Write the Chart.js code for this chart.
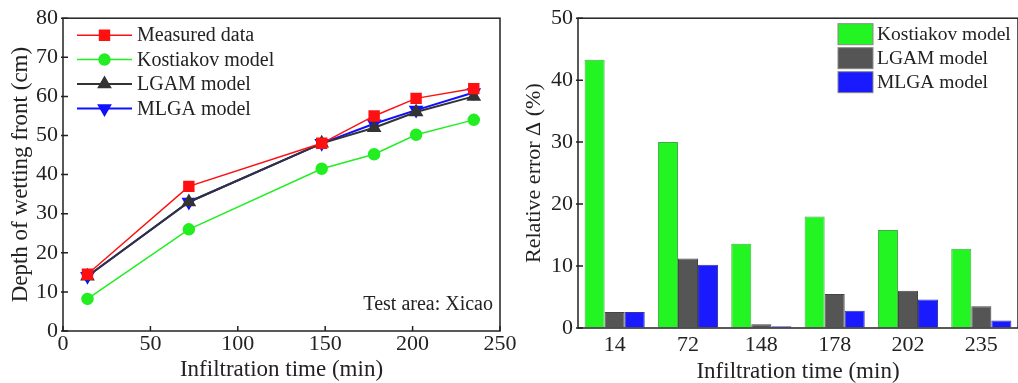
<!DOCTYPE html>
<html>
<head>
<meta charset="utf-8">
<script src="https://cdn.jsdelivr.net/npm/chart.js@4"></script>
<style>
body { margin: 0; background: #fff; }
#wrap { position: relative; width: 1018px; height: 383px; }
.caja { position: absolute; top: 0; height: 383px; }
</style>
</head>
<body>
<div id="wrap">
  <div class="caja" style="left:0;width:522px"><canvas id="grafica1"></canvas></div>
  <div class="caja" style="left:509px;width:509px"><canvas id="grafica2"></canvas></div>
</div>
<script>
// datos
var tiempos = [14, 72, 148, 178, 202, 235];
var medido = [14.5, 37, 48, 55, 59.5, 62];
var kostiakov = [8.2, 26, 41.5, 45.2, 50.2, 54];
var lgam = [14, 33, 48, 52, 56, 60];
var mlga = [14, 33, 48, 53, 56.5, 61];

var errorKostiakov = [43.3, 30, 13.6, 18, 15.8, 12.8];
var errorLgam = [2.6, 11.2, 0.6, 5.5, 6, 3.5];
var errorMlga = [2.6, 10.2, 0.3, 2.8, 4.6, 1.2];

var fuente = '"Liberation Serif", "Times New Roman", serif';
Chart.defaults.font.family = fuente;
Chart.defaults.color = '#222';

function puntos(valores) {
    return tiempos.map(function (t, i) { return { x: t, y: valores[i] }; });
}

// marco y marcas de los ejes
var marcas = {
    id: 'marcas',
    afterDraw: function (chart, args, opts) {
        var ctx = chart.ctx, a = chart.chartArea;
        var x = chart.scales.x, y = chart.scales.y;
        ctx.save();
        ctx.strokeStyle = '#222';
        ctx.lineWidth = 1.5;
        ctx.strokeRect(a.left, a.top, a.right - a.left, a.bottom - a.top);
        ctx.beginPath();
        y.ticks.forEach(function (t) {
            var py = y.getPixelForValue(t.value);
            ctx.moveTo(a.left - 2, py);
            ctx.lineTo(a.left + 5, py);
        });
        if (opts.xMarcas) {
            x.ticks.forEach(function (t, i) {
                var px = x.getPixelForTick(i);
                ctx.moveTo(px, a.bottom);
                ctx.lineTo(px, a.bottom - 5);
            });
        }
        ctx.stroke();
        ctx.restore();
    }
};

var leyendaLineas = {
    id: 'leyendaLineas',
    afterDraw: function (chart) {
        var ctx = chart.ctx, a = chart.chartArea;
        ctx.save();
        chart.data.datasets.forEach(function (ds, i) {
            var yy = a.top + 17 + i * 24.4;
            var x0 = a.left + 14;
            ctx.strokeStyle = ds.borderColor;
            ctx.lineWidth = ds.borderWidth;
            ctx.beginPath();
            ctx.moveTo(x0, yy);
            ctx.lineTo(x0 + 55, yy);
            ctx.stroke();
            ctx.fillStyle = ds.pointBackgroundColor;
            ctx.strokeStyle = ds.pointBorderColor;
            Chart.helpers.drawPoint(ctx, {
                pointStyle: ds.pointStyle,
                radius: ds.pointRadius,
                rotation: ds.pointRotation || 0,
                borderWidth: 1
            }, x0 + 27.5, yy);
            ctx.fillStyle = '#222';
            ctx.font = '20px ' + fuente;
            ctx.textBaseline = 'middle';
            ctx.fillText(ds.label, x0 + 60, yy + 1);
        });
        ctx.font = '20px ' + fuente;
        ctx.textAlign = 'right';
        ctx.textBaseline = 'middle';
        ctx.fillText('Test area: Xicao', a.right - 7, a.bottom - 26);
        ctx.restore();
    }
};

var leyendaBarras = {
    id: 'leyendaBarras',
    afterDraw: function (chart) {
        var ctx = chart.ctx, a = chart.chartArea;
        ctx.save();
        chart.data.datasets.forEach(function (ds, i) {
            var yy = a.top + 16 + i * 24;
            var x0 = a.right - 180;
            ctx.fillStyle = ds.backgroundColor;
            ctx.fillRect(x0, yy - 10.5, 35, 21);
            ctx.strokeStyle = '#888';
            ctx.lineWidth = 1;
            ctx.strokeRect(x0, yy - 10.5, 35, 21);
            ctx.fillStyle = '#222';
            ctx.font = '19.5px ' + fuente;
            ctx.textBaseline = 'middle';
            ctx.fillText(ds.label, x0 + 39, yy + 1);
        });
        ctx.restore();
    }
};

var ctx1 = document.getElementById('grafica1').getContext('2d');
var grafica1 = new Chart(ctx1, {
    type: 'line',
    data: {
        datasets: [{
            label: 'Measured data',
            data: puntos(medido),
            borderColor: '#ff1010',
            borderWidth: 1.5,
            pointStyle: 'rect',
            pointRadius: 7,
            pointBackgroundColor: '#ff1010',
            pointBorderColor: '#ff1010'
        }, {
            label: 'Kostiakov model',
            data: puntos(kostiakov),
            borderColor: '#22ee22',
            borderWidth: 1.5,
            pointStyle: 'circle',
            pointRadius: 5.5,
            pointBackgroundColor: '#22ee22',
            pointBorderColor: '#22ee22'
        }, {
            label: 'LGAM model',
            data: puntos(lgam),
            borderColor: '#333333',
            borderWidth: 2,
            pointStyle: 'triangle',
            pointRadius: 6.5,
            pointBackgroundColor: '#333333',
            pointBorderColor: '#333333'
        }, {
            label: 'MLGA model',
            data: puntos(mlga),
            borderColor: '#1010ff',
            borderWidth: 2,
            pointStyle: 'triangle',
            pointRotation: 180,
            pointRadius: 6.5,
            pointBackgroundColor: '#1010ff',
            pointBorderColor: '#1010ff'
        }]
    },
    options: {
        responsive: true,
        maintainAspectRatio: false,
        animation: false,
        layout: { padding: { top: 16, right: 22, left: 0, bottom: 0 } },
        plugins: {
            legend: { display: false },
            tooltip: { enabled: false },
            marcas: { xMarcas: true }
        },
        scales: {
            x: {
                type: 'linear',
                min: 0,
                max: 250,
                grid: { drawOnChartArea: false, drawTicks: false },
                border: { display: false },
                ticks: { stepSize: 50, padding: 0, maxRotation: 0, font: { size: 22 } },
                title: { display: true, text: 'Infiltration time (min)', font: { size: 23 }, padding: { top: 0, bottom: -1 } },
                afterFit: function (s) { s.height = 52; }
            },
            y: {
                min: 0,
                max: 80,
                grid: { drawOnChartArea: false, drawTicks: false },
                border: { display: false },
                ticks: { stepSize: 10, padding: 5, font: { size: 22 } },
                title: { display: true, text: 'Depth of wetting front (cm)', font: { size: 23 }, padding: { top: 7, bottom: 0 } },
                afterFit: function (s) { s.width = 63; }
            }
        }
    },
    plugins: [marcas, leyendaLineas]
});

var ctx2 = document.getElementById('grafica2').getContext('2d');
var grafica2 = new Chart(ctx2, {
    type: 'bar',
    data: {
        labels: tiempos,
        datasets: [{
            label: 'Kostiakov model',
            data: errorKostiakov,
            backgroundColor: '#22f522',
            borderColor: '#44aa44',
            borderWidth: 1
        }, {
            label: 'LGAM model',
            data: errorLgam,
            backgroundColor: '#555555',
            borderColor: '#444444',
            borderWidth: 1
        }, {
            label: 'MLGA model',
            data: errorMlga,
            backgroundColor: '#1a1aff',
            borderColor: '#3333aa',
            borderWidth: 1
        }]
    },
    options: {
        responsive: true,
        maintainAspectRatio: false,
        animation: false,
        layout: { padding: { top: 16, right: 0, left: 0, bottom: 0 } },
        plugins: {
            legend: { display: false },
            tooltip: { enabled: false },
            marcas: { xMarcas: false }
        },
        datasets: { bar: { categoryPercentage: 0.82, barPercentage: 1 } },
        scales: {
            x: {
                grid: { drawOnChartArea: false, drawTicks: false },
                border: { display: false },
                ticks: { padding: 4, maxRotation: 0, font: { size: 22 } },
                title: { display: true, text: 'Infiltration time (min)', font: { size: 23 }, padding: { top: 0, bottom: -3 } },
                afterFit: function (s) { s.height = 55; }
            },
            y: {
                min: 0,
                max: 50,
                grid: { drawOnChartArea: false, drawTicks: false },
                border: { display: false },
                ticks: { stepSize: 10, padding: 5, font: { size: 22 } },
                title: { display: true, text: 'Relative error \u0394 (%)', font: { size: 22 }, padding: { top: 12, bottom: 0 } },
                afterFit: function (s) { s.width = 69; }
            }
        }
    },
    plugins: [marcas, leyendaBarras]
});
</script>
</body>
</html>
